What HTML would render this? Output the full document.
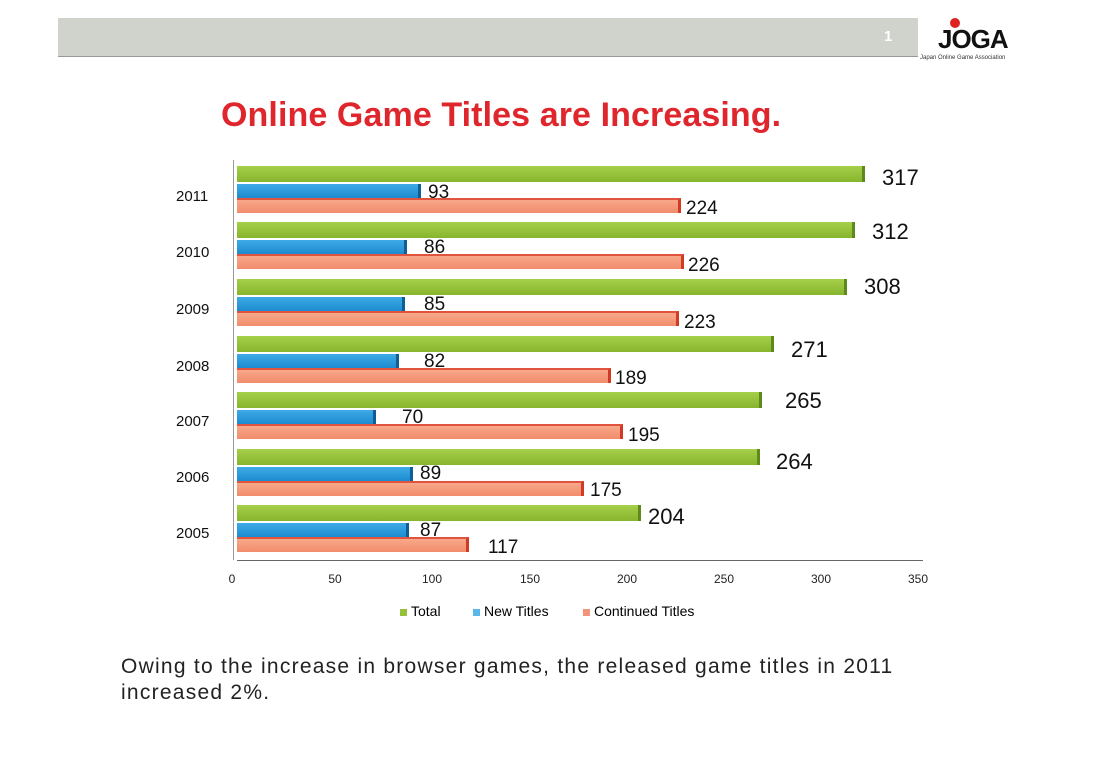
<!DOCTYPE html><html><head><style>
body{margin:0;width:1100px;height:784px;background:#fff;position:relative;overflow:hidden;font-family:"Liberation Sans",sans-serif}
.a{position:absolute}
.g{background:linear-gradient(#a6cf4a,#86b52c);border-right:3px solid #5d8a1a;height:16px}
.b{background:linear-gradient(#3eaae6,#1d8bd0);border-right:3px solid #0f5f96;height:14px}
.o{background:linear-gradient(#f9a88a,#f08c6c);border-right:3px solid #d23a25;border-top:2px solid #e0533d;height:13px}
.v{font-size:22px;color:#111;line-height:22px}
.vs{font-size:19px;color:#111;line-height:19px}
.y{font-size:15px;color:#111;left:176px}
.t{font-size:12px;color:#222;top:572px;width:30px;text-align:center}
</style></head><body>
<div class="a" style="left:58px;top:18px;width:860px;height:38px;background:#cfd3cc;border-bottom:1px solid #999"></div>
<div class="a" style="left:884px;top:28px;color:#fff;font-size:15px;font-weight:bold">1</div>
<div class="a" style="left:938px;top:24px;font-size:26px;font-weight:bold;color:#111;letter-spacing:-1px">JOGA</div>
<div class="a" style="left:950px;top:18px;width:10px;height:10px;border-radius:50%;background:#d22"></div>
<div class="a" style="left:920px;top:55px;font-size:6px;color:#333">Japan Online Game Association</div>
<div class="a" style="left:221px;top:96px;font-size:34px;color:#e0262d;font-weight:bold;letter-spacing:0.1px">Online Game Titles are Increasing.</div>
<div class="a" style="left:233px;top:160px;width:1px;height:400px;background:#999"></div>
<div class="a" style="left:237px;top:560px;width:686px;height:1px;background:#666"></div>

<div class="a g" style="left:237px;top:166px;width:625px"></div><div class="a b" style="left:237px;top:184px;width:181px"></div><div class="a o" style="left:237px;top:198px;width:441px"></div>
<div class="a v" style="left:882px;top:167px">317</div><div class="a vs" style="left:428px;top:183px">93</div><div class="a vs" style="left:686px;top:199px">224</div><div class="a y" style="top:188px">2011</div>

<div class="a g" style="left:237px;top:222px;width:615px"></div><div class="a b" style="left:237px;top:240px;width:167px"></div><div class="a o" style="left:237px;top:254px;width:444px"></div>
<div class="a v" style="left:872px;top:221px">312</div><div class="a vs" style="left:424px;top:238px">86</div><div class="a vs" style="left:688px;top:256px">226</div><div class="a y" style="top:244px">2010</div>

<div class="a g" style="left:237px;top:279px;width:607px"></div><div class="a b" style="left:237px;top:297px;width:165px"></div><div class="a o" style="left:237px;top:311px;width:439px"></div>
<div class="a v" style="left:864px;top:276px">308</div><div class="a vs" style="left:424px;top:295px">85</div><div class="a vs" style="left:684px;top:313px">223</div><div class="a y" style="top:301px">2009</div>

<div class="a g" style="left:237px;top:336px;width:534px"></div><div class="a b" style="left:237px;top:354px;width:159px"></div><div class="a o" style="left:237px;top:368px;width:371px"></div>
<div class="a v" style="left:791px;top:339px">271</div><div class="a vs" style="left:424px;top:352px">82</div><div class="a vs" style="left:615px;top:369px">189</div><div class="a y" style="top:358px">2008</div>

<div class="a g" style="left:237px;top:392px;width:522px"></div><div class="a b" style="left:237px;top:410px;width:136px"></div><div class="a o" style="left:237px;top:424px;width:383px"></div>
<div class="a v" style="left:785px;top:390px">265</div><div class="a vs" style="left:402px;top:408px">70</div><div class="a vs" style="left:628px;top:426px">195</div><div class="a y" style="top:413px">2007</div>

<div class="a g" style="left:237px;top:449px;width:520px"></div><div class="a b" style="left:237px;top:467px;width:173px"></div><div class="a o" style="left:237px;top:481px;width:344px"></div>
<div class="a v" style="left:776px;top:451px">264</div><div class="a vs" style="left:420px;top:464px">89</div><div class="a vs" style="left:590px;top:481px">175</div><div class="a y" style="top:469px">2006</div>

<div class="a g" style="left:237px;top:505px;width:401px"></div><div class="a b" style="left:237px;top:523px;width:169px"></div><div class="a o" style="left:237px;top:537px;width:229px"></div>
<div class="a v" style="left:648px;top:506px">204</div><div class="a vs" style="left:420px;top:521px">87</div><div class="a vs" style="left:488px;top:538px">117</div><div class="a y" style="top:525px">2005</div>

<div class="a t" style="left:217px">0</div><div class="a t" style="left:320px">50</div><div class="a t" style="left:417px">100</div><div class="a t" style="left:515px">150</div><div class="a t" style="left:612px">200</div><div class="a t" style="left:709px">250</div><div class="a t" style="left:806px">300</div><div class="a t" style="left:903px">350</div>

<div class="a" style="left:400px;top:609px;width:7px;height:7px;background:#95c23a"></div><div class="a" style="left:411px;top:603px;font-size:14px">Total</div>
<div class="a" style="left:473px;top:609px;width:7px;height:7px;background:#5ab7ea"></div><div class="a" style="left:484px;top:603px;font-size:14px">New Titles</div>
<div class="a" style="left:583px;top:609px;width:7px;height:7px;background:#f29478"></div><div class="a" style="left:594px;top:603px;font-size:14px">Continued Titles</div>

<div class="a" style="left:121px;top:654px;font-size:21px;color:#222;line-height:26px;letter-spacing:1.25px">Owing to the increase in browser games, the released game titles in 2011<br>increased 2%.</div>
</body></html>
